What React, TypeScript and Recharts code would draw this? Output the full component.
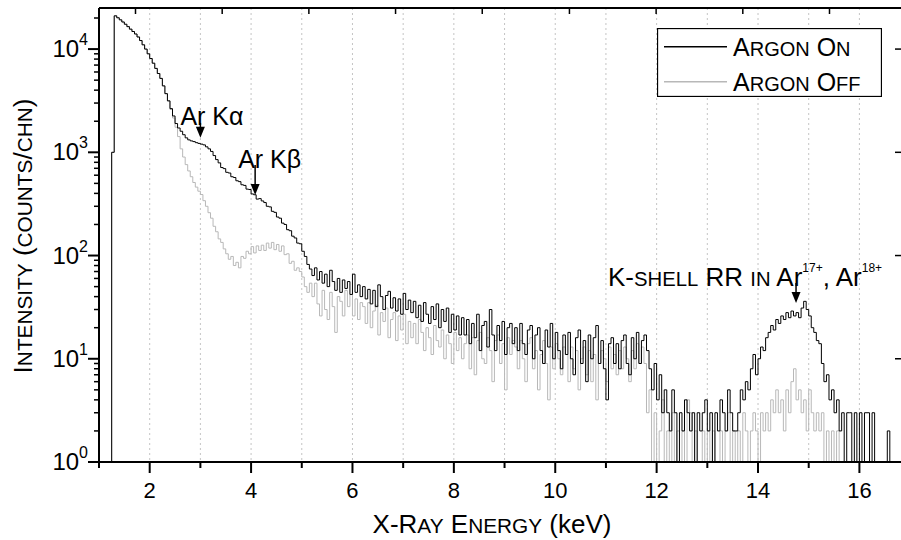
import React from 'react';
import { LineChart, Line, XAxis, YAxis, CartesianGrid, ReferenceDot, Legend } from 'recharts';

const FONT = '"Liberation Sans", Arial, Helvetica, sans-serif';

// channel calibration of the spectrum (keV)
const E_START = 1.2;
const E_STEP = 0.05;

// counts per channel, 20 channels (1 keV) per row, starting at 1.20 keV
const ARGON_ON: (number | null)[] = [
  1, 1000, 21000, 20100, 19200, 18300, 17400, 16500, 15600, 14800, 14000, 13100, 12100, 11000, 10000, 9000, 8100, 7300, 6500, 5800,
  5200, 4400, 3700, 3150, 2650, 2250, 1900, 1720, 1600, 1480, 1380, 1320, 1290, 1270, 1240, 1220, 1200, 1180, 1130, 1080,
  1020, 930, 850, 790, 712, 695, 640, 630, 580, 570, 530, 520, 485, 478, 440, 436, 395, 388, 352, 356,
  338, 326, 300, 296, 268, 262, 236, 230, 206, 200, 178, 174, 154, 148, 132, 130, 110, 98, 82, 74,
  64, 76, 58, 70, 54, 66, 50, 72, 56, 46, 60, 44, 58, 48, 56, 42, 66, 44, 52, 40,
  50, 38, 47, 34, 46, 32, 52, 40, 30, 41, 45, 31, 39, 29, 38, 27, 43, 30, 37, 28,
  36, 25, 33, 23, 35, 27, 22, 32, 24, 34, 20, 30, 23, 31, 18, 27, 19, 26, 17, 25,
  17, 24, 14, 22, 16, 27, 12, 21, 23, 13, 30, 17, 12, 21, 15, 23, 11, 20, 22, 14,
  20, 12, 22, 14, 11, 19, 21, 10, 17, 20, 12, 9, 19, 13, 22, 10, 18, 12, 8, 17,
  11, 18, 10, 7, 16, 19, 9, 15, 6, 17, 10, 16, 21, 9, 15, 8, 4, 14, 16, 9,
  14, 8, 15, 17, 9, 7, 16, 10, 18, 9, 15, 17, 12, 8, 5, 9, 4, 7, 3, 5,
  3, 2, 5, 3, 1, 3, 2, 4, 3, 2, 3, 1, 3, 2, 3, 4, 2, 3, 1, 3,
  2, 4, 3, 2, 5, 3, 2, 2, 3, 5, 4, 6, 5, 8, 11, 7, 10, 13, 12, 16,
  18, 21, 19, 24, 22, 26, 24, 28, 25, 29, 26, 28, 25, 31, 36, 30, 26, 20, 18, 15,
  14, 9, 6, 7, 4, 5, 3, 4, 2, 3, 1, 3, 3, 1, 3, 1, 3, 1, 3, 3,
  1, 3, 1, 1, 1, 1, 1, 2, 1, 1, null,
];

const ARGON_OFF: (number | null)[] = [
  1, 1000, 21000, 20100, 19200, 18300, 17400, 16500, 15600, 14800, 14000, 13100, 12100, 11000, 10000, 9000, 8100, 7300, 6500, 5800,
  5200, 4400, 3700, 3150, 2600, 2150, 1750, 1420, 1080, 900, 760, 660, 580, 510, 460, 420, 390, 340, 300, 260,
  230, 192, 170, 145, 134, 116, 104, 92, 98, 80, 86, 76, 98, 94, 110, 104, 122, 106, 124, 112,
  126, 112, 132, 118, 134, 114, 128, 110, 124, 102, 104, 84, 88, 72, 76, 70, 62, 50, 44, 54,
  40, 54, 34, 26, 46, 30, 24, 44, 32, 18, 40, 36, 26, 46, 32, 42, 26, 38, 24, 35,
  32, 22, 35, 20, 29, 33, 17, 28, 23, 31, 16, 24, 28, 15, 26, 19, 27, 14, 23, 16,
  22, 14, 24, 18, 12, 20, 16, 11, 21, 15, 13, 19, 10, 17, 14, 9, 18, 12, 16, 10,
  14, 17, 8, 16, 7, 15, 18, 10, 9, 16, 12, 6, 15, 17, 9, 14, 5, 16, 11, 15,
  13, 8, 15, 10, 6, 14, 16, 8, 12, 5, 11, 15, 9, 4, 13, 8, 14, 10, 7, 13,
  11, 6, 13, 8, 12, 5, 10, 13, 7, 12, 6, 11, 4, 9, 12, 10, 6, 13, 8, 11,
  7, 12, 8, 13, 10, 6, 12, 8, 14, 9, 13, 9, 3, 5, 1, 3, 1, 2, 4, 1,
  2, 1, 3, 1, 2, 1, 2, 1, 4, 3, 1, 2, 1, 1, 2, 1, 2, 1, 2, 1,
  1, 2, 1, 2, 3, 1, 2, 1, 2, 1, 3, 2, 1, 2, 3, 2, 1, 3, 2, 3,
  2, 4, 3, 5, 3, 4, 2, 5, 3, 6, 8, 4, 5, 3, 4, 2, 5, 3, 2, 3,
  2, 3, 1, 2, 1, 2, 1, 2, 1, 1, null, null, null, null, null, null, null, null, null, null,
  null, null, null, null, null, null, null, null, null, null, null,
];

const SERIES_NAMES = ['Argon On', 'Argon Off'];

const X_TICKS = [1, 2, 3, 4, 5, 6, 7, 8, 9, 10, 11, 12, 13, 14, 15, 16];
const X_LABELED = [2, 4, 6, 8, 10, 12, 14, 16];
const TOP_TICKS = [1.72, 3.43, 5.14, 6.85, 8.56, 10.28, 11.99, 13.7, 15.41];
const Y_MAJOR = [1, 10, 100, 1000, 10000];
const Y_TICKS = [
  1, 2, 3, 4, 5, 6, 7, 8, 9,
  10, 20, 30, 40, 50, 60, 70, 80, 90,
  100, 200, 300, 400, 500, 600, 700, 800, 900,
  1000, 2000, 3000, 4000, 5000, 6000, 7000, 8000, 9000,
  10000, 20000,
];

const ANNOTATIONS = [
  { id: 'ka', energy: 3.0, counts: 1380, label: 'Ar K\u03b1' },
  { id: 'kb', energy: 4.08, counts: 386, label: 'Ar K\u03b2' },
  { id: 'rr', energy: 14.75, counts: 34.7, label: 'K-shell RR in Ar', ions: ['17+', '18+'] },
];

const rows = ARGON_ON.map((on, i) => ({
  energy: +(E_START + i * E_STEP).toFixed(2),
  on,
  off: ARGON_OFF[i],
}));

function smallCaps(text: string, size: number, ratio = 0.78) {
  const parts: { t: string; small: boolean }[] = [];
  for (const ch of text) {
    const small = ch !== ch.toUpperCase();
    const last = parts[parts.length - 1];
    const c = small ? ch.toUpperCase() : ch;
    if (last && last.small === small) last.t += c;
    else parts.push({ t: c, small });
  }
  return parts.map((p, i) => (
    <tspan key={i} fontSize={p.small ? size * ratio : size}>{p.t}</tspan>
  ));
}

const isMajor = (v: number) => Y_MAJOR.includes(v);

const YTick = (props: any) => {
  const { x, y, payload } = props;
  const v = payload.value;
  const major = isMajor(v);
  const exp = Math.round(Math.log10(v));
  return (
    <g>
      <line x1={x} x2={x - (major ? 11 : 5)} y1={y} y2={y} stroke="#000" strokeWidth={major ? 2 : 1.5} />
      {major && (
        <text x={x - 11} y={y + 8} textAnchor="end" fontFamily={FONT} fontSize={24} fill="#000">
          10<tspan dy={-12} fontSize={16}>{exp}</tspan>
        </text>
      )}
    </g>
  );
};

const RightTick = (props: any) => {
  const { x, y, payload } = props;
  if (!isMajor(payload.value)) return <g />;
  return <line x1={x} x2={x - 8} y1={y} y2={y} stroke="#000" strokeWidth={1.5} />;
};

const XTick = (props: any) => {
  const { x, y, payload } = props;
  const v = payload.value;
  const labeled = X_LABELED.includes(v);
  return (
    <g>
      <line x1={x} x2={x} y1={y} y2={y + (labeled ? 11 : 6)} stroke="#000" strokeWidth={2} />
      {labeled && (
        <text x={x} y={y + 36} textAnchor="middle" fontFamily={FONT} fontSize={22} fill="#000">
          {v}
        </text>
      )}
    </g>
  );
};

const TopTick = (props: any) => {
  const { x, y } = props;
  return <line x1={x} x2={x} y1={y} y2={y + 6} stroke="#000" strokeWidth={1.5} />;
};

const XTitle = () => (
  <text x={492} y={533} textAnchor="middle" fontFamily={FONT} fill="#000">
    {smallCaps('X-Ray Energy', 26, 0.8)}
    <tspan fontSize={26}> (keV)</tspan>
  </text>
);

const YTitle = () => (
  <text
    x={31.5}
    y={236}
    transform="rotate(-90 31.5 236)"
    textAnchor="middle"
    fontFamily={FONT}
    fill="#000"
  >
    {smallCaps('Intensity (counts/chn)', 26, 0.8)}
  </text>
);

const Arrow = ({ cx, cy, len }: { cx: number; cy: number; len: number }) => (
  <g>
    <line x1={cx} x2={cx} y1={cy - len} y2={cy - 8} stroke="#000" strokeWidth={1.5} />
    <polygon points={`${cx - 4.5},${cy - 11} ${cx + 4.5},${cy - 11} ${cx},${cy}`} fill="#000" />
  </g>
);

const annotationShape = (a: any) => (p: any) => {
  const { cx, cy } = p;
  if (a.id === 'ka') {
    return (
      <g>
        <text x={cx - 20} y={cy - 13} fontFamily={FONT} fontSize={25} fill="#000">{a.label}</text>
        <Arrow cx={cx} cy={cy} len={15} />
      </g>
    );
  }
  if (a.id === 'kb') {
    return (
      <g>
        <text x={cx - 17} y={cy - 27} fontFamily={FONT} fontSize={25} fill="#000">{a.label}</text>
        <Arrow cx={cx} cy={cy} len={30} />
      </g>
    );
  }
  return (
    <g>
      <text x={cx - 188} y={cy - 17} fontFamily={FONT} fill="#000">
        {smallCaps(a.label.replace(' Ar', ''), 26, 0.78)}
        <tspan fontSize={26}> Ar</tspan>
        <tspan fontSize={12} dy={-14} fill="#000">{a.ions[0]}</tspan>
        <tspan fontSize={26} dy={14}>, Ar</tspan>
        <tspan fontSize={12} dy={-14} fill="#000">{a.ions[1]}</tspan>
      </text>
      <Arrow cx={cx} cy={cy} len={20} />
    </g>
  );
};

const LegendBox = (props: any) => {
  const payload = [...(props.payload || [])].sort(
    (a: any, b: any) => SERIES_NAMES.indexOf(a.value) - SERIES_NAMES.indexOf(b.value)
  );
  return (
    <svg width={225} height={69} style={{ display: 'block' }}>
      <rect x={0.5} y={0.5} width={224} height={68} fill="#fff" stroke="#000" strokeWidth={1.3} />
      {payload.map((p: any, i: number) => (
        <g key={i}>
          <line x1={7} x2={70} y1={18.7 + 35 * i} y2={18.7 + 35 * i} stroke={p.color} strokeWidth={1.5} />
          <text x={76} y={27.5 + 35 * i} fontFamily={FONT} fill="#000">
            {smallCaps(String(p.value), 25, 0.8)}
          </text>
        </g>
      ))}
    </svg>
  );
};

export default function App() {
  return (
    <div style={{ position: 'absolute', left: 0, top: 0, width: 901, height: 540, overflow: 'hidden', background: '#fff' }}>
      <LineChart width={904} height={540} data={rows} margin={{ top: 0, right: 0, bottom: 0, left: 0 }}>
        <CartesianGrid
          xAxisId="bottom"
          yAxisId="left"
          horizontal={false}
          vertical
          stroke="#c4c4c4"
          strokeDasharray="2 3"
        />
        <Line
          xAxisId="bottom"
          yAxisId="left"
          dataKey="off"
          name={SERIES_NAMES[1]}
          type="stepAfter"
          stroke="#b8b8b8"
          strokeWidth={1}
          dot={false}
          activeDot={false}
          isAnimationActive={false}
        />
        <Line
          xAxisId="bottom"
          yAxisId="left"
          dataKey="on"
          name={SERIES_NAMES[0]}
          type="stepAfter"
          stroke="#000000"
          strokeWidth={1}
          dot={false}
          activeDot={false}
          isAnimationActive={false}
        />
        {ANNOTATIONS.map((a) => (
          <ReferenceDot
            key={a.id}
            xAxisId="bottom"
            yAxisId="left"
            x={a.energy}
            y={a.counts}
            r={0}
            ifOverflow="visible"
            shape={annotationShape(a)}
          />
        ))}
        <XAxis
          xAxisId="bottom"
          dataKey="energy"
          type="number"
          domain={[1, 16.86]}
          allowDataOverflow
          ticks={X_TICKS}
          interval={0}
          height={78}
          tickSize={0}
          tickMargin={0}
          tickLine={false}
          tick={XTick}
          axisLine={{ stroke: '#000', strokeWidth: 2 }}
          label={XTitle}
        />
        <XAxis
          xAxisId="top"
          orientation="top"
          dataKey="energy"
          type="number"
          domain={[1, 16.86]}
          allowDataOverflow
          ticks={TOP_TICKS}
          interval={0}
          height={8}
          tickSize={0}
          tickMargin={0}
          tickLine={false}
          tick={TopTick}
          axisLine={{ stroke: '#000', strokeWidth: 2 }}
        />
        <YAxis
          yAxisId="left"
          scale="log"
          type="number"
          domain={[1, 25000]}
          allowDataOverflow
          ticks={Y_TICKS}
          interval={0}
          width={99}
          tickSize={0}
          tickMargin={0}
          tickLine={false}
          tick={YTick}
          axisLine={{ stroke: '#000', strokeWidth: 2 }}
          label={YTitle}
        />
        <YAxis
          yAxisId="right"
          orientation="right"
          scale="log"
          type="number"
          domain={[1, 25000]}
          allowDataOverflow
          ticks={Y_TICKS}
          interval={0}
          width={1}
          tickSize={0}
          tickMargin={0}
          tickLine={false}
          tick={RightTick}
          axisLine={{ stroke: '#000', strokeWidth: 2 }}
        />
        <Legend
          layout="vertical"
          align="center"
          verticalAlign="middle"
          wrapperStyle={{ position: 'absolute', left: 657, top: 28, width: 225, height: 69 }}
          content={LegendBox}
        />
      </LineChart>
    </div>
  );
}
